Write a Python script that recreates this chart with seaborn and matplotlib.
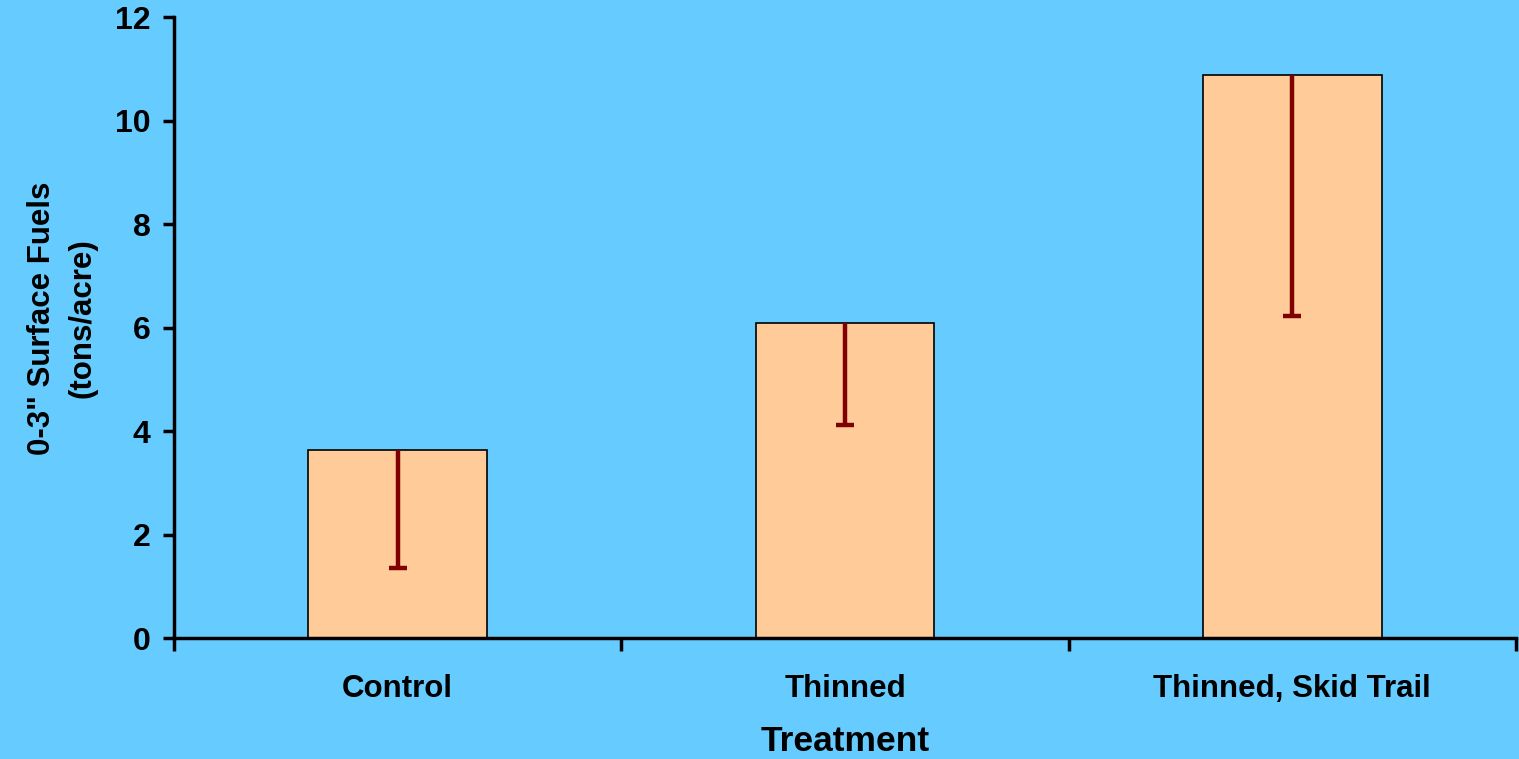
import numpy as np
import matplotlib
matplotlib.use("Agg")
import matplotlib.pyplot as plt
import seaborn as sns

# values
treatments = ["Control", "Thinned", "Thinned, Skid Trail"]
fuel_means = [3.63, 6.09, 10.88]
fuel_lower_err = [2.28, 1.97, 4.66]

bg = "#66CCFF"
sns.set_style("ticks")
plt.rcParams["font.family"] = ["Liberation Sans", "DejaVu Sans"]
plt.rcParams["font.weight"] = "bold"
for key in ["text.color", "axes.labelcolor", "xtick.color", "ytick.color", "axes.edgecolor"]:
    plt.rcParams[key] = "black"

fig = plt.figure(figsize=(15.19, 7.59), dpi=100, facecolor=bg)
ax = fig.add_axes([0.1146, 0.1594, 0.8834, 0.8182])
ax.set_facecolor(bg)

sns.barplot(x=treatments, y=fuel_means, color="#FFCC99", saturation=1,
            edgecolor="black", linewidth=1.2, width=0.4, errorbar=None, ax=ax)

# one-sided (downward) error bars, cap only at the bottom
xs = np.arange(len(treatments))
_, caps, _ = ax.errorbar(xs, fuel_means, yerr=[fuel_lower_err, [0] * len(xs)],
                         fmt="none", ecolor="#800000", elinewidth=3.2,
                         capsize=6.5, capthick=3.2, zorder=5)
caps[1].set_visible(False)

ax.set_xlim(-0.5, 2.5)
ax.set_ylim(0, 12)
ax.set_yticks(range(0, 13, 2))
ax.tick_params(axis="y", labelsize=23, width=2.5, length=8, direction="out", pad=9)
ax.set_xticks(xs)
ax.set_xticklabels(treatments)
ax.tick_params(axis="x", which="major", length=0, labelsize=22.5, pad=26)
ax.set_xticks([-0.5, 0.5, 1.5, 2.5], minor=True)
ax.tick_params(axis="x", which="minor", length=9, width=2.5, direction="out")

for lbl in ax.get_xticklabels() + ax.get_yticklabels():
    lbl.set_fontweight("bold")

ax.set_xlabel("Treatment", fontsize=25.5, fontweight="bold", labelpad=15)
ax.set_ylabel('0-3" Surface Fuels\n(tons/acre)', fontsize=22.5, fontweight="bold",
              linespacing=1.45)
ax.yaxis.set_label_coords(-0.057, 0.515)

sns.despine(ax=ax)
ax.spines["left"].set_linewidth(2.5)
ax.spines["bottom"].set_linewidth(2.5)

fig.savefig("out.png", dpi=100, facecolor=bg)
